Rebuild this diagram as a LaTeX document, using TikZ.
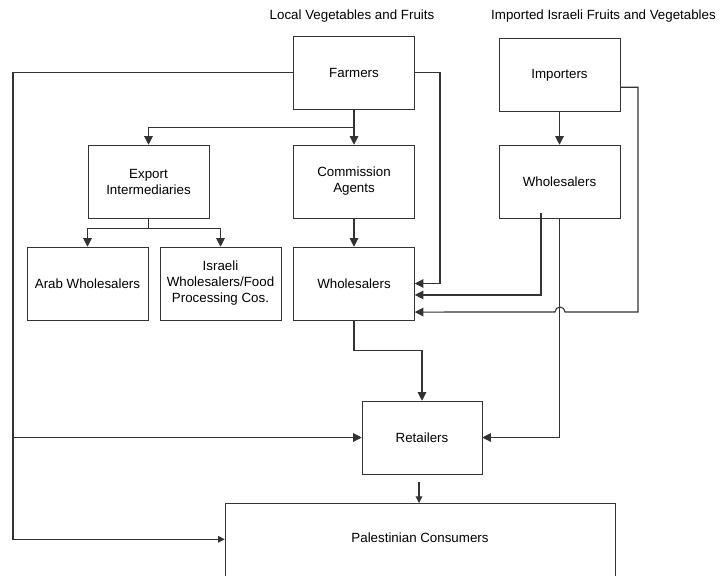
\documentclass[tikz,border=0pt]{standalone}
\usepackage{fontspec}
\setmainfont{Liberation Sans}
\usetikzlibrary{arrows.meta,positioning}

\begin{document}
\begin{tikzpicture}[x=0.75pt, y=-0.75pt, >={Triangle[length=6.5pt,width=6.5pt]},
	box/.style={draw, black!80, text=black, minimum width=90.75pt, minimum height=54.75pt, align=center, font=\normalsize},
	link/.style={draw, black!80, line width=0.8pt},
	small tip/.style={-{Triangle[length=5pt,width=5pt]}}]
	\useasboundingbox (0,0) rectangle (720,575);

	\node (localtitle) at (352,16) {Local Vegetables and Fruits};
	\node (importtitle) at (603.5,16) {Imported Israeli Fruits and Vegetables};

	\node[box] (farmers) at (354,72.5) {Farmers};
	\node[box] (importers) at (559.5,75) {Importers};
	\node[box] (export) at (148.5,181.5) {Export\\Intermediaries};
	\node[box] (commission) at (354,181.5) {Commission\\Agents};
	\node[box] (whright) at (559.5,181.5) {Wholesalers};
	\node[box] (arab) at (87.5,283.5) {Arab Wholesalers};
	\node[box] (israeli) [right of=arab, node distance=99.75pt] {Israeli\\Wholesalers/Food\\Processing Cos.};
	\node[box] (whmid) at (354,283.5) {Wholesalers};
	\node[box, minimum width=90pt] (retailers) at (422,437.5) {Retailers};
	\node[box, anchor=north, minimum width=292.5pt, minimum height=60pt, text depth=8pt] (consumers) at (420,503) {Palestinian Consumers};

	\coordinate (leftrail) at (13,437.5);
	\coordinate (farmrail) at (440,283.5);
	\coordinate (whrout) at (541,213);
	\coordinate (imprail) at (638,312);
	\coordinate (hop) at (565,312);

	% local produce
	\draw[link,->] (farmers.west) -| (leftrail) -- (retailers.west);
	\draw[link,small tip] (leftrail) |- ([yshift=3pt]consumers.west);
	\draw[link,->] (farmers.south) -- ++(0,18) -| (export.north);
	\draw[link,->] (farmers.south) -- (commission.north);
	\draw[link,->] (farmers.east) -| (farmrail) -- (whmid.east);
	\draw[link] (export.south) -- ++(0,10) coordinate (exfork);
	\draw[link,->] (exfork) -| (arab.north);
	\draw[link,->] (exfork) -| (israeli.north);
	\draw[link,->] (commission.south) -- (whmid.north);

	% imported produce
	\draw[link,->] (importers.south) -- (whright.north);
	\draw[link,->] ([yshift=-9.2pt]importers.east) -| (imprail) -- (hop)
		arc[start angle=0, end angle=180, radius=3.75pt] -- ([yshift=-21.4pt]whmid.east);
	\draw[link,->] (whrout) |- ([yshift=-8.6pt]whmid.east);
	\draw[link,->] (whright.south) |- (retailers.east);

	% to the consumers
	\draw[link,->] (whmid.south) -- ++(0,30) -| (retailers.north);
	\draw[link,small tip] ([xshift=-2.25pt,yshift=-6pt]retailers.south) -- ([xshift=-2.25pt]retailers.south |- consumers.north);
\end{tikzpicture}
\end{document}
